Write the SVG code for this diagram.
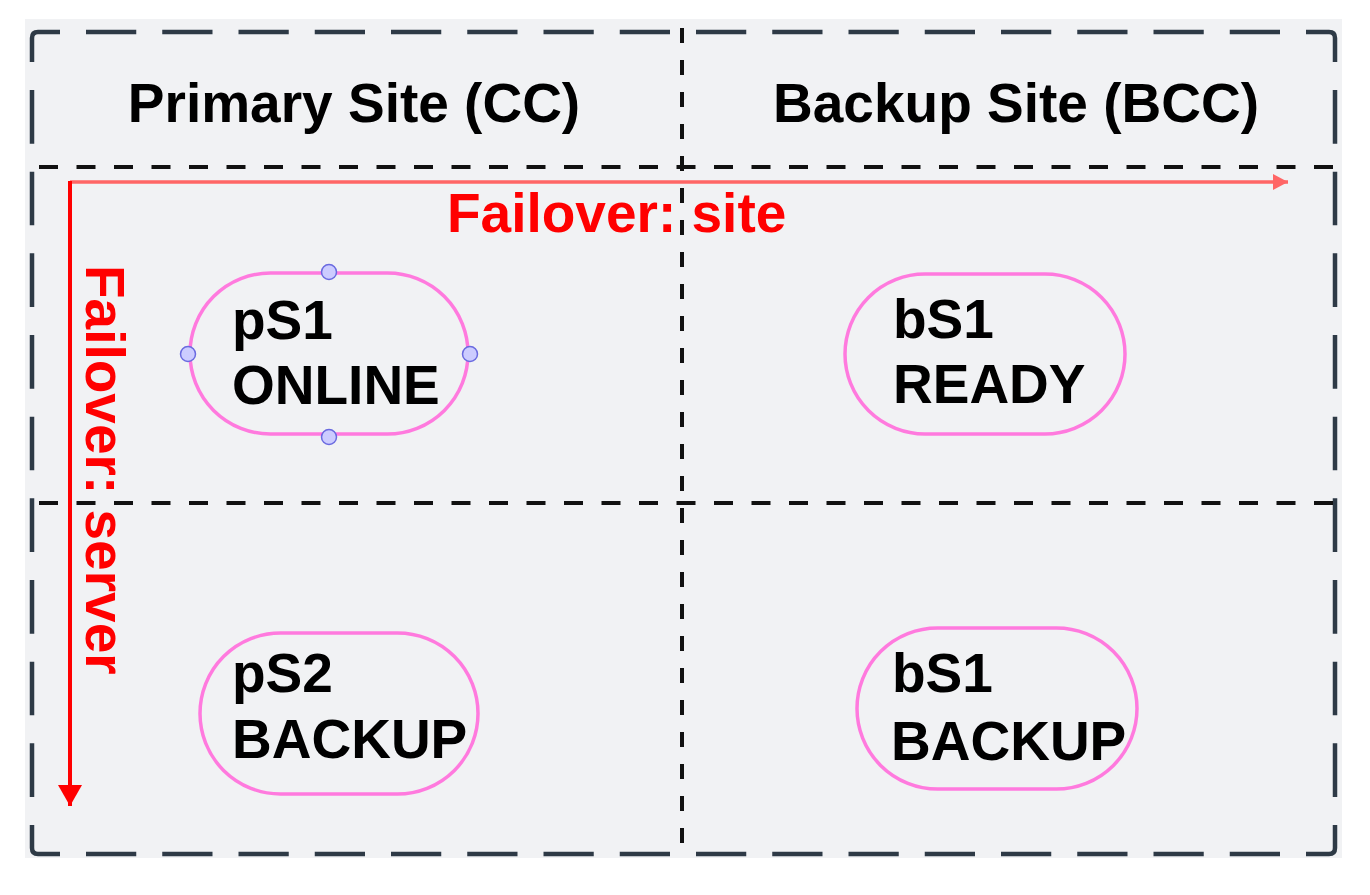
<svg xmlns="http://www.w3.org/2000/svg" width="1370" height="895" viewBox="0 0 1370 895">
<defs>
<style>
.bd{fill:none;stroke:#2e3a46;stroke-width:4.5;stroke-linecap:butt;stroke-linejoin:round}
.bdh{stroke-dasharray:50.25 26}
.bdv{stroke-dasharray:53.67 28}
.dv{fill:none;stroke:#111;stroke-width:4}
.node{fill:none;stroke:#ff7ade;stroke-width:3.5}
.lbl{font-family:"Liberation Sans",Arial,sans-serif;font-weight:bold;font-size:55px;fill:#000}
.ttl{font-family:"Liberation Sans",Arial,sans-serif;font-weight:bold;font-size:55px;fill:#000;text-anchor:middle}
.fo{font-family:"Liberation Sans",Arial,sans-serif;font-weight:bold;font-size:55px;fill:#ff0000}
.hd{fill:#ccccff;stroke:#6a6ae0;stroke-width:1.5}
</style>
<marker id="ahSite" viewBox="0 0 15 16" refX="15" refY="8" markerWidth="15" markerHeight="16" markerUnits="userSpaceOnUse" orient="auto">
<path d="M0,0 L15,8 L0,16 Z" fill="#ff6666"/>
</marker>
<marker id="ahSrv" viewBox="0 0 21 24" refX="21" refY="12" markerWidth="21" markerHeight="24" markerUnits="userSpaceOnUse" orient="auto">
<path d="M0,0 L21,12 L0,24 Z" fill="#ff0000"/>
</marker>
</defs>
<rect x="25" y="19" width="1317" height="839" fill="#f1f2f4"/>
<g id="frame">
<path class="bd" d="M32,62 V38 Q32,32 38,32 H60"/>
<path class="bd" d="M1306,32 H1329 Q1335,32 1335,38 V62"/>
<path class="bd" d="M1335,825 V848 Q1335,854 1329,854 H1306"/>
<path class="bd" d="M60,854 H38 Q32,854 32,848 V825"/>
<path class="bd bdh" d="M86,32 H1280"/>
<path class="bd bdh" d="M86,854 H1280"/>
<path class="bd bdv" d="M32,90 V797"/>
<path class="bd bdv" d="M1335,90 V797"/>
</g>
<g id="dividers">
<path class="dv" d="M682,28 V858" stroke-dasharray="15 17"/>
<path class="dv" d="M28,167 H1338" stroke-dasharray="19 18.5" stroke-dashoffset="-11"/>
<path class="dv" d="M28,503 H1338" stroke-dasharray="19 18.5" stroke-dashoffset="-11"/>
</g>
<g id="titles">
<text class="ttl" x="354" y="122">Primary Site (CC)</text>
<text class="ttl" x="1016" y="122">Backup Site (BCC)</text>
</g>
<g id="connectors">
<path d="M70,182 H1288" fill="none" stroke="#ff6666" stroke-width="3.5" marker-end="url(#ahSite)"/>
<path d="M70,181 V806" fill="none" stroke="#ff0000" stroke-width="4" marker-end="url(#ahSrv)"/>
<text class="fo" x="447" y="232">Failover: site</text>
<text class="fo" transform="translate(86,265) rotate(90)" x="0" y="0">Failover: server</text>
</g>
<g id="node-pS1">
<rect class="node" x="190" y="273" width="278" height="161" rx="80.5"/>
<text class="lbl" x="232" y="339">pS1</text>
<text class="lbl" x="232" y="404">ONLINE</text>
<circle class="hd" cx="329" cy="272" r="7.5"/>
<circle class="hd" cx="188" cy="354" r="7.5"/>
<circle class="hd" cx="470" cy="354" r="7.5"/>
<circle class="hd" cx="329" cy="437" r="7.5"/>
</g>
<g id="node-bS1-ready">
<rect class="node" x="845" y="274" width="280" height="160" rx="80"/>
<text class="lbl" x="893" y="338">bS1</text>
<text class="lbl" x="893" y="403">READY</text>
</g>
<g id="node-pS2">
<rect class="node" x="200" y="633" width="278" height="161" rx="80.5"/>
<text class="lbl" x="232" y="692">pS2</text>
<text class="lbl" x="232" y="758">BACKUP</text>
</g>
<g id="node-bS1-backup">
<rect class="node" x="857" y="628" width="280" height="161" rx="80.5"/>
<text class="lbl" x="892" y="692">bS1</text>
<text class="lbl" x="891" y="760">BACKUP</text>
</g>
</svg>
